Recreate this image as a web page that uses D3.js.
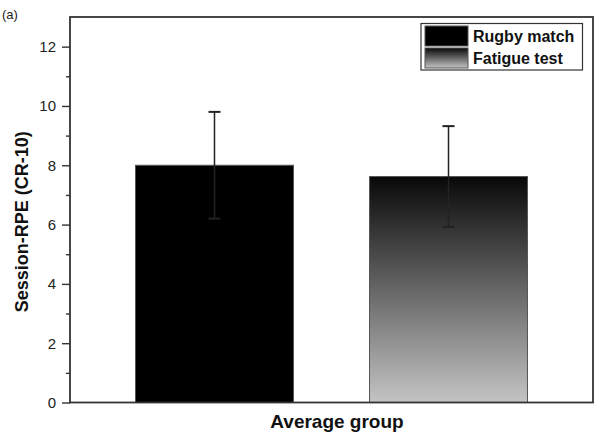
<!DOCTYPE html>
<html><head><meta charset="utf-8">
<script src="https://cdn.jsdelivr.net/npm/d3@7"></script>
<style>body{margin:0;background:#fff}svg{display:block}</style>
</head><body>
<svg id="c" width="606" height="434"></svg>
<script>
const groupLabel = "Average group";
const series = ["Rugby match", "Fatigue test"];
const means = [8.0, 7.62];
const errors = [1.8, 1.7];
const yTicks = [0, 2, 4, 6, 8, 10, 12];
const yMinorTicks = [1, 3, 5, 7, 9, 11];

const svg = d3.select("#c");
const L = 70, R = 593, T = 17, B = 402.5;
const font = "Arial, 'Liberation Sans', sans-serif";

const defs = svg.append("defs");
const grad = defs.append("linearGradient").attr("id","g").attr("x1",0).attr("y1",0).attr("x2",0).attr("y2",1);
grad.append("stop").attr("offset","0%").attr("stop-color","#080808");
grad.append("stop").attr("offset","100%").attr("stop-color","#c4c4c4");

const x = d3.scaleBand().domain(series).range([L, R]).paddingInner(0.325).paddingOuter(0.28);
const y = d3.scaleLinear().domain([0, 13]).range([B, T]);
const fills = ["#000", "url(#g)"];

// bars
svg.selectAll("rect.bar").data(series).join("rect").attr("class","bar")
  .attr("x", d => x(d)).attr("width", x.bandwidth())
  .attr("y", (d,i) => y(means[i])).attr("height", (d,i) => B - y(means[i]))
  .attr("fill", (d,i) => fills[i]).attr("stroke", "#555").attr("stroke-width", 1);

// error bars
const eb = svg.append("g").attr("stroke", "#222").attr("stroke-width", 1.5);
series.forEach((s, i) => {
  const cx = x(s) + x.bandwidth()/2;
  eb.append("line").attr("x1", cx).attr("x2", cx).attr("y1", y(means[i] - errors[i])).attr("y2", y(means[i] + errors[i]));
  eb.append("line").attr("x1", cx - 6).attr("x2", cx + 6).attr("y1", y(means[i] + errors[i])).attr("y2", y(means[i] + errors[i])).attr("stroke-width", 2);
  eb.append("line").attr("x1", cx - 6).attr("x2", cx + 6).attr("y1", y(means[i] - errors[i])).attr("y2", y(means[i] - errors[i])).attr("stroke-width", 2);
});

// frame
svg.append("rect").attr("x", L).attr("y", T).attr("width", R - L).attr("height", B - T)
  .attr("fill", "none").attr("stroke", "#333").attr("stroke-width", 1.8);

// y axis
const yAxis = d3.axisLeft(y).tickValues(yTicks).tickSize(8).tickPadding(6).tickFormat(d3.format("d"));
const ya = svg.append("g").attr("transform", `translate(${L},0)`).call(yAxis);
ya.select(".domain").remove();
ya.selectAll(".tick line").attr("stroke", "#333").attr("stroke-width", 1.4);
ya.selectAll(".tick text").attr("font-family", font).attr("font-size", 15).attr("fill", "#222");
const yMinor = d3.axisLeft(y).tickValues(yMinorTicks).tickSize(4).tickFormat("");
const ym = svg.append("g").attr("transform", `translate(${L},0)`).call(yMinor);
ym.select(".domain").remove();
ym.selectAll(".tick line").attr("stroke", "#333").attr("stroke-width", 1.4);

// titles
svg.append("text").attr("transform", `translate(28,${(T+B)/2 + 12}) rotate(-90)`)
  .attr("text-anchor", "middle").attr("font-family", font).attr("font-weight", "bold")
  .attr("font-size", 18).attr("fill", "#111").text("Session-RPE (CR-10)");
svg.append("text").attr("x", 337).attr("y", 428).attr("text-anchor", "middle")
  .attr("font-family", font).attr("font-weight", "bold").attr("font-size", 19).attr("fill", "#111").text(groupLabel);
svg.append("text").attr("x", 2).attr("y", 19).attr("font-family", font).attr("font-size", 13).attr("fill", "#222").text("(a)");

// legend
const lg = svg.append("g");
lg.append("rect").attr("x", 421).attr("y", 23.5).attr("width", 161.5).attr("height", 46.5)
  .attr("fill", "#fff").attr("stroke", "#333").attr("stroke-width", 1.2);
series.forEach((s, i) => {
  const yy = 26 + i * 22;
  lg.append("rect").attr("x", 425).attr("y", yy).attr("width", 43).attr("height", 20)
    .attr("fill", fills[i]).attr("stroke", "#555").attr("stroke-width", 1);
  lg.append("text").attr("x", 473).attr("y", yy + 16).attr("font-family", font).attr("font-weight", "bold")
    .attr("font-size", 16).attr("fill", "#111").text(s);
});
</script>
</body></html>
